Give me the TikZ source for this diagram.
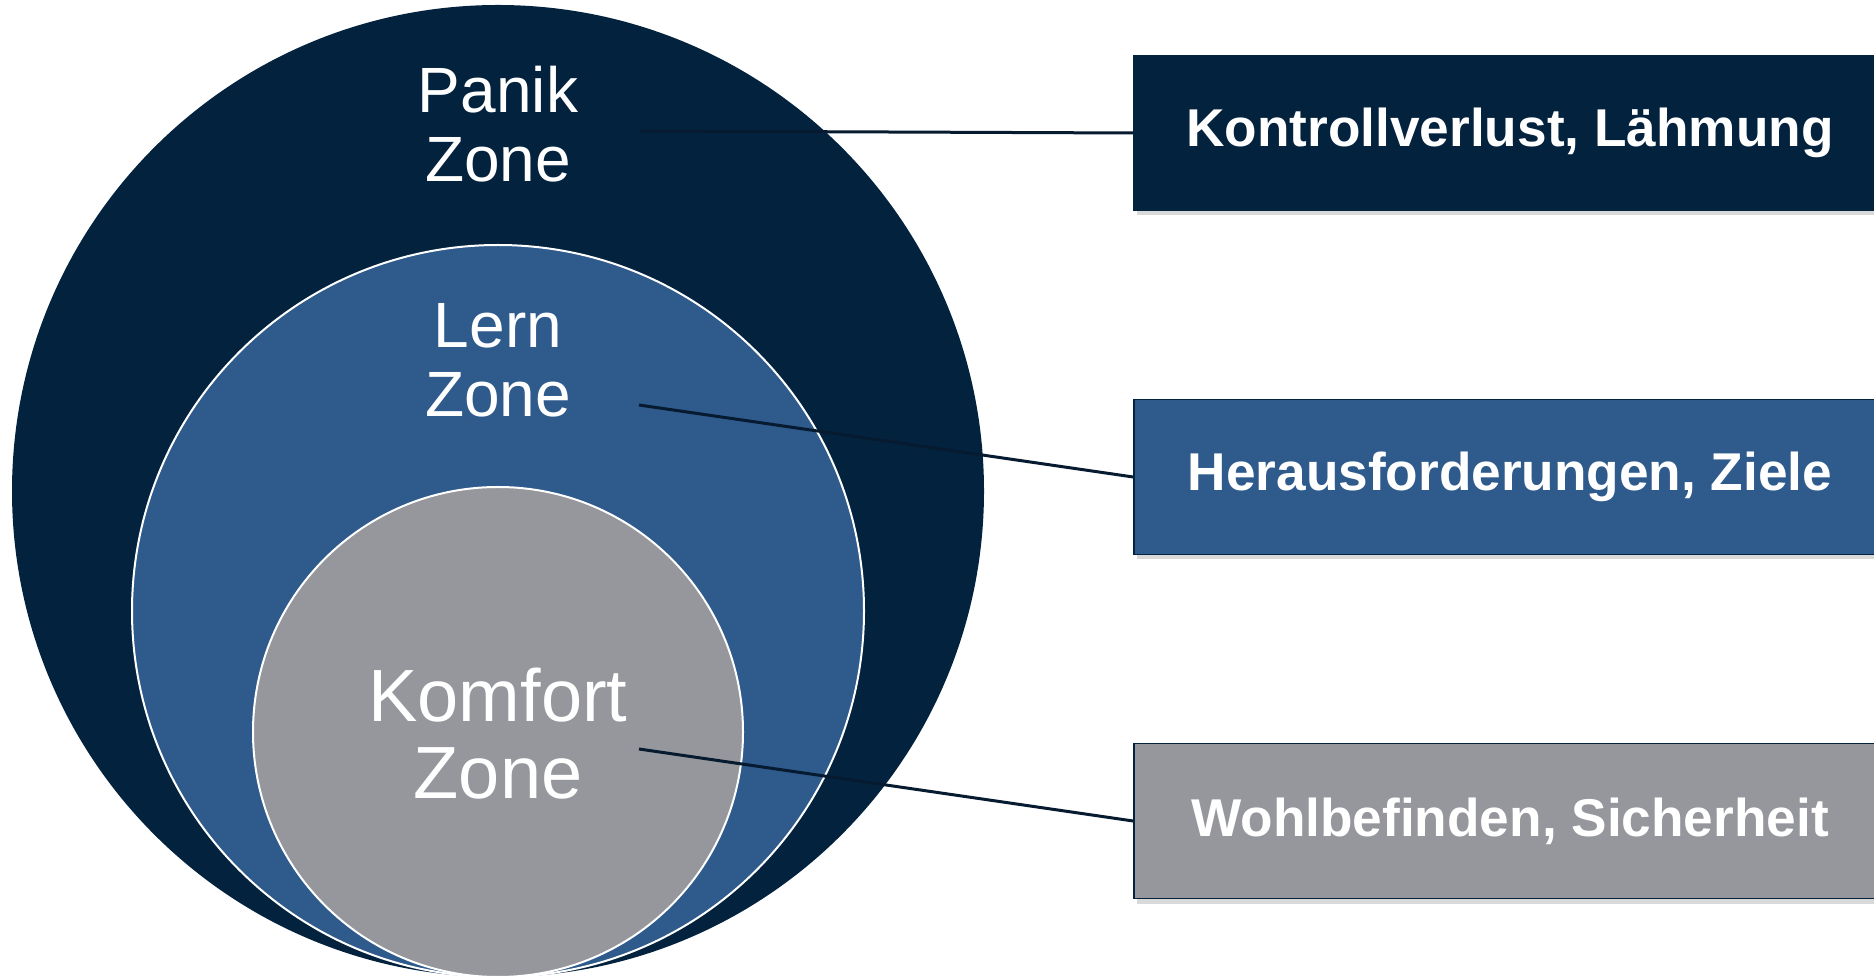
\documentclass[tikz,border=0pt]{standalone}
\usepackage{fontspec}
\setmainfont{Liberation Sans}
\usetikzlibrary{shadows}
\definecolor{panikblau}{HTML}{03223E}
\definecolor{lernblau}{HTML}{2E5A8C}
\definecolor{komfortgrau}{HTML}{95979C}
\definecolor{linie}{HTML}{061A30}
\begin{document}
\begin{tikzpicture}[x=0.5pt, y=-0.5pt,
    zone/.style={text=white, align=center},
    kasten/.style={draw=panikblau, line width=0.8pt, minimum width=376pt, minimum height=77.5pt,
        text=white, font=\fontsize{26.6}{30}\selectfont\bfseries,
        drop shadow={shadow xshift=1.5pt, shadow yshift=-2.5pt, opacity=0.3}},
    verbinder/.style={draw=linie, line width=1.5pt}]
                \useasboundingbox (0,0) rectangle (1874,977);
                \clip (0,0) rectangle (1874,977);
                \fill[panikblau] (498,491) circle (486);
                \filldraw[fill=lernblau, draw=white, line width=1pt] (498,611) circle (366);
                \filldraw[fill=komfortgrau, draw=white, line width=1pt] (498,732) circle (245);
                \node[zone, font=\fontsize{32}{34.5}\selectfont] (panik) at (498,124) {Panik\\Zone};
                \node[zone, font=\fontsize{32}{34.5}\selectfont] (lern) at (498,360) {Lern\\Zone};
                \node[zone, font=\fontsize{37}{38.5}\selectfont] (komfort) at (498,734) {Komfort\\Zone};
                \node[kasten, fill=panikblau] (kontrolle) at (1510,133) {Kontrollverlust, Lähmung};
                \node[kasten, fill=lernblau] (ziele) at (1510,477) {Herausforderungen, Ziele};
                \node[kasten, fill=komfortgrau] (sicherheit) at (1510,821) {Wohlbefinden, Sicherheit};
                \coordinate (p1) at (640,131);
                \coordinate (p2) at (639,405);
                \coordinate (p3) at (639,749);
                \draw[verbinder] (p1) -- (kontrolle.west);
                \draw[verbinder] (p2) -- (ziele.west);
                \draw[verbinder] (p3) -- (sicherheit.west);
\end{tikzpicture}
\end{document}
